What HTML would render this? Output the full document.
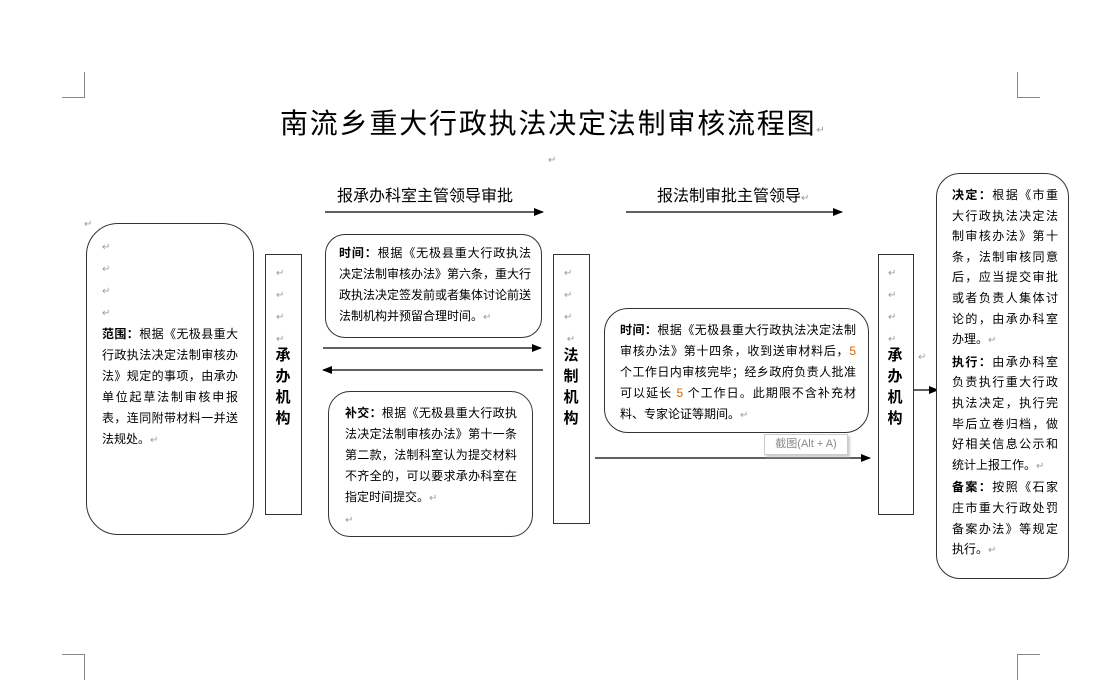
<!DOCTYPE html>
<html><head><meta charset="utf-8"><style>
body{margin:0;width:1112px;height:689px;background:#fff;position:relative;overflow:hidden;font-family:"Liberation Sans","Noto Sans CJK SC","WenQuanYi Zen Hei",sans-serif;color:#000}
.a{position:absolute}
.box{position:absolute;border:1.3px solid #333;box-sizing:border-box;background:#fff}
.t{font-size:12px;line-height:21px;text-align:justify}
.p{color:#999;font-size:10px}
b{font-weight:bold}
.v{font-size:15px;font-weight:bold;line-height:21px;text-align:center}
.line{position:absolute;height:0;border-top:1.3px solid #000}
.cm{position:absolute;border-color:#888;border-style:solid;width:22px;height:25px}
</style></head><body>
<div class="cm" style="left:62px;top:72px;border-width:0 1px 1px 0"></div>
<div class="cm" style="left:1017px;top:72px;border-width:0 0 1px 1px"></div>
<div class="cm" style="left:62px;top:654px;border-width:1px 1px 0 0"></div>
<div class="cm" style="left:1017px;top:654px;border-width:1px 0 0 1px"></div>

<div class="a" style="left:280px;top:102px;font-size:28px;letter-spacing:1.8px;white-space:nowrap">南流乡重大行政执法决定法制审核流程图<span class="p">↵</span></div>
<div class="a p" style="left:548px;top:155px">↵</div>
<div class="a" style="left:337px;top:182px;font-size:16px;white-space:nowrap">报承办科室主管领导审批</div>
<div class="a" style="left:657px;top:182px;font-size:16px;white-space:nowrap">报法制审批主管领导<span class="p">↵</span></div>

<svg class="a" style="left:0;top:0" width="1112" height="689">
<defs><marker id="m" markerWidth="10" markerHeight="8" refX="9" refY="4" orient="auto" markerUnits="userSpaceOnUse"><path d="M0,0 L10,4 L0,8z" fill="#000"/></marker></defs>
<g stroke="#000" stroke-width="1.3">
<line x1="325" y1="212" x2="543" y2="212" marker-end="url(#m)"/>
<line x1="626" y1="212" x2="842" y2="212" marker-end="url(#m)"/>
<line x1="323" y1="348" x2="541" y2="348" marker-end="url(#m)"/>
<line x1="543" y1="370" x2="323" y2="370" marker-end="url(#m)"/>
<line x1="595" y1="458" x2="870" y2="458" marker-end="url(#m)"/>
<line x1="913" y1="390" x2="938" y2="390" marker-end="url(#m)"/>
</g></svg>

<div class="a p" style="left:84px;top:219px">↵</div>
<div class="box" style="left:86px;top:223px;width:168px;height:312px;border-radius:32px"></div>
<div class="a t" style="left:102px;top:236px;width:136px"><span class="p">↵</span><br><span class="p">↵</span><br><span class="p">↵</span><br><span class="p">↵</span><br><b>范围：</b>根据《无极县重大行政执法决定法制审核办法》规定的事项，由承办单位起草法制审核申报表，连同附带材料一并送法规处。<span class="p">↵</span></div>

<div class="box" style="left:265px;top:254px;width:37px;height:261px"></div>
<div class="a t" style="left:276px;top:262px;width:20px"><span class="p">↵<br>↵<br>↵<br>↵</span></div>
<div class="a v" style="left:272px;top:345px;width:22px">承<br>办<br>机<br>构</div>

<div class="box" style="left:325px;top:234px;width:217px;height:104px;border-radius:20px"></div>
<div class="a t" style="left:339px;top:243px;width:192px"><b>时间：</b>根据《无极县重大行政执法决定法制审核办法》第六条，重大行政执法决定签发前或者集体讨论前送法制机构并预留合理时间。<span class="p">↵</span></div>

<div class="box" style="left:328px;top:391px;width:205px;height:146px;border-radius:22px"></div>
<div class="a t" style="left:345px;top:403px;width:172px"><b>补交：</b>根据《无极县重大行政执法决定法制审核办法》第十一条第二款，法制科室认为提交材料不齐全的，可以要求承办科室在指定时间提交。<span class="p">↵</span><br><span class="p">↵</span></div>

<div class="box" style="left:553px;top:254px;width:37px;height:270px"></div>
<div class="a t" style="left:564px;top:262px;width:20px"><span class="p">↵<br>↵<br>↵<br>&nbsp;↵</span></div>
<div class="a v" style="left:560px;top:345px;width:22px">法<br>制<br>机<br>构</div>

<div class="box" style="left:604px;top:308px;width:265px;height:125px;border-radius:24px"></div>
<div class="a t" style="left:620px;top:320px;width:236px"><b>时间：</b>根据《无极县重大行政执法决定法制审核办法》第十四条，收到送审材料后，<span style="color:#c60">5</span> 个工作日内审核完毕；经乡政府负责人批准可以延长 <span style="color:#c60">5</span> 个工作日。此期限不含补充材料、专家论证等期间。<span class="p">↵</span></div>

<div class="a" style="left:764px;top:434px;width:84px;height:21px;border:1px solid #ccc;box-sizing:border-box;box-shadow:2px 2px 2px #ccc;background:#fff;color:#888;font-size:11px;line-height:19px;text-align:center">截图(Alt + A)</div>

<div class="box" style="left:878px;top:254px;width:36px;height:261px"></div>
<div class="a t" style="left:888px;top:262px;width:20px"><span class="p">↵<br>↵<br>↵<br>↵</span></div>
<div class="a v" style="left:884px;top:345px;width:22px">承<br>办<br>机<br>构</div>
<div class="a p" style="left:918px;top:352px">↵</div>

<div class="box" style="left:936px;top:173px;width:133px;height:406px;border-radius:24px"></div>
<div class="a t" style="left:952px;top:185px;width:106px;line-height:20.6px"><b>决定：</b>根据《市重大行政执法决定法制审核办法》第十条，法制审核同意后，应当提交审批或者负责人集体讨论的，由承办科室办理。<span class="p">↵</span><br><b>执行：</b>由承办科室负责执行重大行政执法决定，执行完毕后立卷归档，做好相关信息公示和统计上报工作。<span class="p">↵</span><br><b>备案：</b>按照《石家庄市重大行政处罚备案办法》等规定执行。<span class="p">↵</span></div>
</body></html>
